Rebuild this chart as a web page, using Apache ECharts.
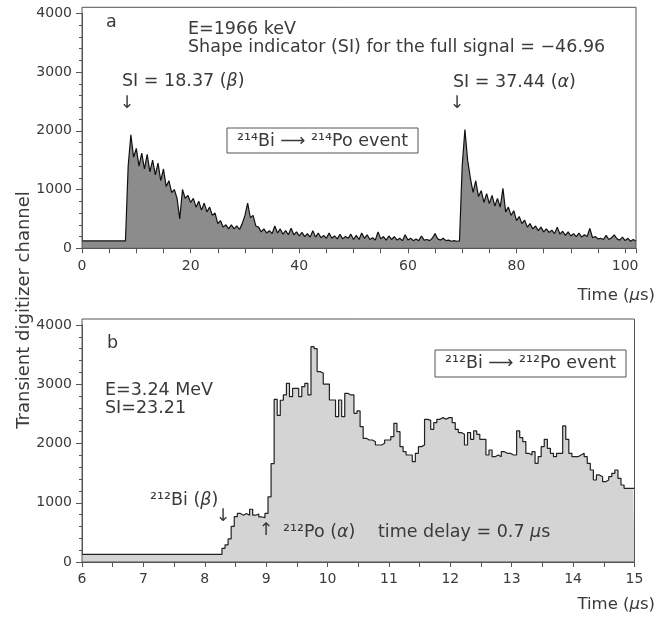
<!DOCTYPE html>
<html>
<head>
<meta charset="utf-8">
<script src="https://cdn.jsdelivr.net/npm/echarts@6/dist/echarts.min.js"></script>
<style>
  html, body { margin: 0; padding: 0; background: #fff; }
  #chart { width: 657px; height: 620px; }
</style>
</head>
<body>
<div id="chart"></div>
<script>
// panel a: 214Bi -> 214Po, sampled every 0.5 us from t = 0
var topStep = 0.5;
var topSignal = [
  125, 125, 125, 125, 125, 125, 125, 125, 125, 125, 125, 125, 125, 125, 125, 125,
  125, 1400, 1930, 1550, 1700, 1400, 1620, 1350, 1600, 1300, 1500, 1250, 1450, 1150, 1350, 1050,
  1150, 950, 1000, 850, 500, 1000, 850, 900, 780, 850, 700, 800, 650, 770, 620, 700,
  560, 600, 420, 470, 360, 400, 330, 400, 330, 380, 320, 420, 560, 770, 520, 560,
  380, 360, 280, 330, 260, 300, 250, 380, 260, 330, 240, 300, 230, 340, 230, 280,
  210, 270, 200, 250, 190, 300, 190, 260, 180, 220, 170, 260, 170, 210, 160, 240,
  160, 200, 170, 240, 150, 220, 150, 260, 170, 230, 150, 180, 140, 280, 160, 200,
  140, 210, 150, 200, 140, 170, 130, 230, 140, 170, 130, 160, 130, 210, 140, 150,
  130, 170, 250, 160, 140, 170, 130, 140, 120, 130, 120, 125, 1400, 2020, 1500, 1200,
  950, 1150, 880, 980, 780, 930, 760, 900, 720, 850, 700, 1020, 620, 700, 560, 640,
  470, 540, 420, 480, 360, 420, 330, 380, 300, 360, 280, 330, 270, 310, 250, 360,
  240, 290, 220, 280, 210, 250, 200, 260, 190, 230, 200, 340, 180, 200, 160, 170,
  150, 220, 150, 180, 230, 160, 140, 190, 130, 170, 120, 150, 120
];

// panel b: 212Bi -> 212Po, baseline then 0.05 us bins from 8.28 us
var bottomBaseline = 130;
var bottomStart = 8.28;
var bottomBin = 0.05;
var bottomSignal = [
  230, 290, 390, 600, 765, 820, 790, 820, 790, 890, 790, 810, 760, 750, 820, 1100,
  1660, 2745, 2473, 2730, 2820, 3016, 2790, 2930, 2930, 2790, 2960, 3016, 2820, 3634, 3600, 3213,
  3190, 3003, 3003, 2734, 2734, 2453, 2734, 2453, 2847, 2820, 2820, 2509, 2550, 2284, 2087, 2059,
  2059, 2030, 1975, 1975, 2003, 2059, 2059, 2115, 2340, 2200, 1947, 1862, 1806, 1806, 1694, 1834,
  1947, 1975, 2408, 2390, 2240, 2352, 2408, 2437, 2408, 2437, 2437, 2352, 2240, 2184, 2155, 1975,
  2184, 2071, 2213, 2155, 2071, 2071, 1806, 1890, 1778, 1806, 1778, 1862, 1834, 1834, 1806, 1806,
  2213, 2100, 2030, 1834, 1806, 1862, 1665, 1778, 1947, 2071, 1919, 1834, 1778, 1834, 1834, 2296,
  2071, 1834, 1778, 1778, 1806, 1834, 1778, 1665, 1553, 1384, 1469, 1440, 1356, 1384, 1440, 1497,
  1553, 1413, 1300, 1244, 1244, 1244, 1244
];

var topData = topSignal.map(function (v, i) { return [i * topStep, v]; });
var bottomData = [[6, bottomBaseline]];
bottomSignal.forEach(function (v, i) {
  bottomData.push([+(bottomStart + i * bottomBin).toFixed(3), v]);
});
bottomData.push([15, bottomSignal[bottomSignal.length - 1]]);

var font = 'DejaVu Sans';
var ink = '#3a3a3a';
var fs = 17.5;

function yAxisFor(idx) {
  return {
    type: 'value', gridIndex: idx, min: 0, max: 4000, interval: 1000,
    axisLine: { show: true, lineStyle: { color: '#555' } },
    axisTick: { show: true, length: 6, lineStyle: { color: '#555' } },
    minorTick: { show: true, splitNumber: 5, length: 3, lineStyle: { color: '#555' } },
    splitLine: { show: false },
    axisLabel: { fontFamily: font, fontSize: 14, color: ink, margin: 10,
      formatter: function (v) { return String(v); } }
  };
}

function xAxisFor(idx, min, max, step, every, margin) {
  return {
    type: 'value', gridIndex: idx, min: min, max: max, interval: step,
    axisLine: { show: true, onZero: false, lineStyle: { color: '#555' } },
    axisTick: { show: true, length: 5, lineStyle: { color: '#555' } },
    splitLine: { show: false },
    axisLabel: {
      fontFamily: font, fontSize: 14, color: ink, margin: margin,
      formatter: function (v) {
        return Math.abs(v / every - Math.round(v / every)) < 1e-6 ? String(Math.round(v)) : '';
      }
    }
  };
}

function txt(x, y, s, size, align, rich) {
  var style = { x: x, y: y, text: s, fill: ink, font: size + 'px "' + font + '"',
    align: align || 'left', verticalAlign: 'middle' };
  if (rich) style.rich = rich;
  return { type: 'text', z: 10, style: style };
}
function frame(x, y, w, h) {
  return { type: 'rect', z: 9, shape: { x: x, y: y, width: w, height: h },
    style: { fill: 'none', stroke: '#555', lineWidth: 1 } };
}
var it = { fontStyle: 'italic', fontFamily: font, fontSize: fs, fill: ink };
var itT = { fontStyle: 'italic', fontFamily: font, fontSize: 16.5, fill: ink };

var option = {
  animation: false,
  backgroundColor: '#fff',
  grid: [
    { left: 82, top: 13.3, width: 554, height: 235 },
    { left: 82, top: 325, width: 552.5, height: 237 }
  ],
  xAxis: [xAxisFor(0, 0, 102, 5, 20, 11), xAxisFor(1, 6, 15, 0.5, 1, 10)],
  yAxis: [yAxisFor(0), yAxisFor(1)],
  series: [
    {
      type: 'line', xAxisIndex: 0, yAxisIndex: 0, data: topData,
      showSymbol: false, lineStyle: { color: '#111', width: 1.2 },
      areaStyle: { color: '#8c8c8c', opacity: 1 }
    },
    {
      type: 'line', xAxisIndex: 1, yAxisIndex: 1, data: bottomData, step: 'end',
      showSymbol: false, lineStyle: { color: '#222', width: 1.2 },
      areaStyle: { color: '#d4d4d4', opacity: 1 }
    }
  ],
  graphic: [
    frame(82, 7.3, 554, 241),
    frame(82, 319, 552.5, 243),
    // panel a
    txt(106, 22, 'a', fs),
    txt(188, 29, 'E=1966 keV', fs),
    txt(188, 47, 'Shape indicator (SI) for the full signal = \u221246.96', fs),
    txt(122, 81, 'SI = 18.37 ({i|\u03b2})', fs, 'left', { i: it }),
    txt(127, 103, '\u2193', fs, 'center'),
    txt(453, 82, 'SI = 37.44 ({i|\u03b1})', fs, 'left', { i: it }),
    txt(457, 103, '\u2193', fs, 'center'),
    frame(227, 128, 191, 25),
    txt(322.5, 141, '\u00b2\u00b9\u2074Bi \u27f6 \u00b2\u00b9\u2074Po event', fs, 'center'),
    txt(655, 296, 'Time ({i|\u03bc}s)', 16.5, 'right', { i: itT }),
    // panel b
    txt(107, 343, 'b', fs),
    txt(105, 390, 'E=3.24 MeV', fs),
    txt(105, 408, 'SI=23.21', fs),
    txt(150, 500, '\u00b2\u00b9\u00b2Bi ({i|\u03b2})', fs, 'left', { i: it }),
    txt(223, 516, '\u2193', fs, 'center'),
    txt(266, 530, '\u2191', fs, 'center'),
    txt(283, 532, '\u00b2\u00b9\u00b2Po ({i|\u03b1})', fs, 'left', { i: it }),
    txt(378, 532, 'time delay = 0.7 {i|\u03bc}s', fs, 'left', { i: it }),
    frame(435, 350, 191, 27),
    txt(530.5, 363.5, '\u00b2\u00b9\u00b2Bi \u27f6 \u00b2\u00b9\u00b2Po event', fs, 'center'),
    txt(655, 605, 'Time ({i|\u03bc}s)', 16.5, 'right', { i: itT }),
    // shared y title
    {
      type: 'text', z: 10, x: 24, y: 310, rotation: Math.PI / 2,
      style: { text: 'Transient digitizer channel', fill: ink, font: '18px "' + font + '"',
        align: 'center', verticalAlign: 'middle' }
    }
  ]
};

var myChart = echarts.init(document.getElementById('chart'));
myChart.setOption(option);
</script>
</body>
</html>
